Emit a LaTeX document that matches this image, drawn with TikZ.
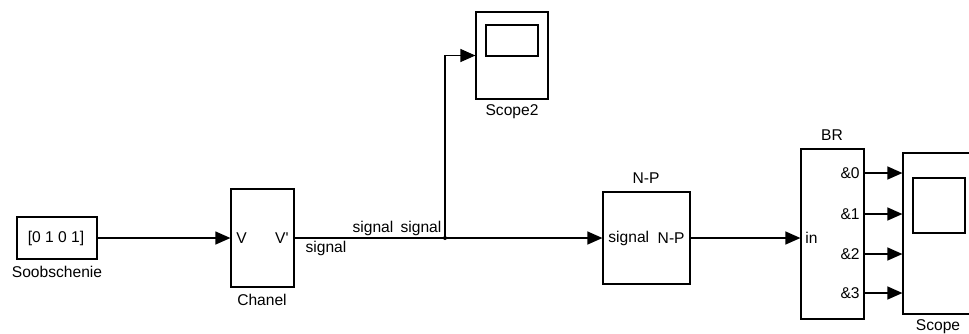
\documentclass[tikz,border=0pt]{standalone}
\usepackage{fontspec}
\setmainfont{Liberation Sans}
\usetikzlibrary{arrows.meta, positioning, calc}

\begin{document}
\begin{tikzpicture}[
    x=0.5pt, y=-0.5pt,
    block/.style={rectangle, draw=black, line width=0.6pt, fill=white, inner sep=0pt},
    screen/.style={rectangle, draw=black, line width=0.6pt, inner sep=0pt},
    txt/.style={inner sep=0pt, font=\fontsize{7.8}{9}\selectfont},
    arrow/.style={-{Triangle[length=7.5pt,width=6.5pt]}, line width=0.6pt},
    wire/.style={line width=0.6pt},
]
\useasboundingbox[fill=white] (0,0) rectangle (969,333);

\node[block, minimum width=40pt, minimum height=21pt] (msg) at (57,238) {};
\node[txt] (msgval) at (56,238) {[0 1 0 1]};
\node[txt] (msglbl) at (57,272) {Soobschenie};

\node[block, minimum width=31.5pt, minimum height=49pt] (chanel) at (262.5,238) {};
\node[txt, anchor=west] (chv) at (236,238) {V};
\node[txt, anchor=east] (chvo) at (289,238) {V\textquotesingle};
\node[txt] (chlbl) at (262,300) {Chanel};

\node[block, minimum width=36pt, minimum height=43.5pt] (scope2) at (512,55.5) {};
\node[screen, minimum width=26pt, minimum height=15.5pt] (scr2) at (512,40.5) {};
\node[txt] (sc2lbl) at (512,112) {Scope2};

\node[block, minimum width=43.5pt, minimum height=46pt] (np) at (646.5,238) {};
\node[txt, anchor=west] (npin) at (608,238) {signal};
\node[txt, anchor=east] (npout) at (685,238) {N-P};
\node[txt] (nplbl) at (646,178) {N-P};

\node[block, minimum width=31.5pt, minimum height=85pt] (br) at (832.5,234) {};
\node[txt, anchor=west] (brin) at (805,238) {in};
\node[txt, anchor=east] (br0) at (860,173) {\&0};
\node[txt, anchor=east] (br1) at (860,214) {\&1};
\node[txt, anchor=east] (br2) at (860,254) {\&2};
\node[txt, anchor=east] (br3) at (860,293) {\&3};
\node[txt] (brlbl) at (832,135) {BR};

\node[block, minimum width=36pt, minimum height=80.5pt] (scope) at (939,233.5) {};
\node[screen, minimum width=26pt, minimum height=27.5pt] (scr) at (939,205.5) {};
\node[txt] (sclbl) at (938,327) {Scope};

\coordinate (split) at (445,238);

\draw[arrow] (msg) -- (chanel);
\draw[wire] (chanel.east) -- (split);
\draw[arrow] (split) -- (np);
\draw[arrow] (split) |- (scope2.west);
\fill (split) circle (2);
\node[txt] (sig1) at (326,248) {signal};
\node[txt] (sig2) at (373,228) {signal};
\node[txt] (sig3) at (421,228) {signal};

\draw[arrow] (np) -- (br.west |- np);
\draw[arrow] (br0.east -| br.east) -- (br0.east -| scope.west);
\draw[arrow] (br1.east -| br.east) -- (br1.east -| scope.west);
\draw[arrow] (br2.east -| br.east) -- (br2.east -| scope.west);
\draw[arrow] (br3.east -| br.east) -- (br3.east -| scope.west);
\end{tikzpicture}
\end{document}
